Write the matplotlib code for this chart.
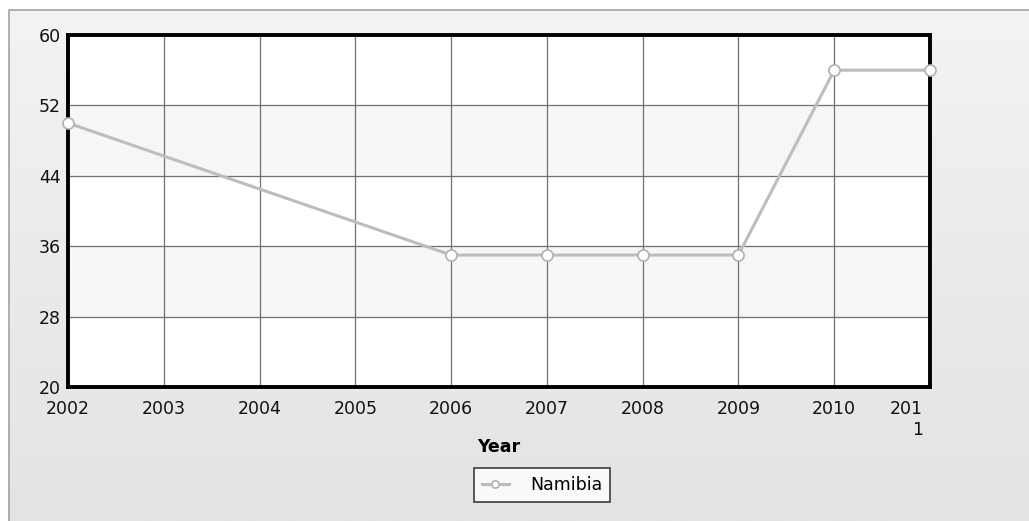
import matplotlib
matplotlib.use("Agg")
import matplotlib.pyplot as plt
import numpy as np
from matplotlib.transforms import ScaledTranslation

years = [2002, 2006, 2007, 2008, 2009, 2010, 2011]
values = [50, 35, 35, 35, 35, 56, 56]
xticks = [2002, 2003, 2004, 2005, 2006, 2007, 2008, 2009, 2010, 2011]
xtick_labels = ["2002", "2003", "2004", "2005", "2006", "2007", "2008", "2009", "2010", "201\n1"]
yticks = [20, 28, 36, 44, 52, 60]
series_name = "Namibia"

W, H = 1029, 521
fig = plt.figure(figsize=(W / 100, H / 100), dpi=100)
fig.patch.set_facecolor("white")

# panel background gradient with border
bg = fig.add_axes([0, 0, 1, 1], zorder=-10)
bg.set_xlim(0, W); bg.set_ylim(H, 0)
grad = np.linspace(0, 1, 256).reshape(-1, 1)
cmap = matplotlib.colors.LinearSegmentedColormap.from_list("g", ["#f3f3f3", "#e3e3e3"])
bg.imshow(grad, aspect="auto", cmap=cmap, extent=[9, W, H, 10], origin="upper")
bg.plot([9, 9, W], [H, 10, 10], color="#a8a8a8", lw=1.3)
bg.axis("off")

FS = 12.5
ax = fig.add_axes([68 / W, 1 - 387 / H, 862 / W, 352 / H])
ax.set_facecolor("white")
ax.set_xlim(2002, 2011)
ax.set_ylim(20, 60)
for i in range(len(yticks) - 1):
    if i % 2 == 1:
        ax.axhspan(yticks[i], yticks[i + 1], color="#f6f6f6", zorder=0)

ax.set_xticks(xticks)
ax.set_xticklabels(xtick_labels, fontsize=FS, color="#111111", linespacing=1.25)
ax.set_yticks(yticks)
ax.set_yticklabels([str(v) for v in yticks], fontsize=FS, color="#111111")
ax.tick_params(axis="x", length=0, pad=9)
ax.tick_params(axis="y", length=0, pad=5)
last = ax.get_xticklabels()[-1]
last.set_horizontalalignment("right")
last.set_multialignment("right")
last.set_transform(last.get_transform() + ScaledTranslation(-7 / 100, 0, fig.dpi_scale_trans))

ax.grid(True, color="#707070", lw=0.9, zorder=1)
ax.set_axisbelow(True)
for s in ax.spines.values():
    s.set_linewidth(2.8)
    s.set_color("black")

ax.plot(years, values, color="#bdbdbd", lw=2.2, marker="o", markersize=8,
        markerfacecolor="white", markeredgecolor="#b0b0b0", markeredgewidth=1.2,
        label=series_name, zorder=5, clip_on=False)

ax.set_xlabel("Year", fontsize=FS, fontweight="bold", labelpad=-1)

leg = ax.legend(loc="center", bbox_to_anchor=((542 - 68) / 862, (387 - 485) / 352), frameon=True,
                fancybox=False, edgecolor="#222222", fontsize=FS, handlelength=1.6,
                borderpad=0.45, handletextpad=1.2, markerscale=0.65)
leg.get_frame().set_linewidth(1.3)
leg.get_frame().set_facecolor("white")

fig.savefig("out.png", dpi=100)
